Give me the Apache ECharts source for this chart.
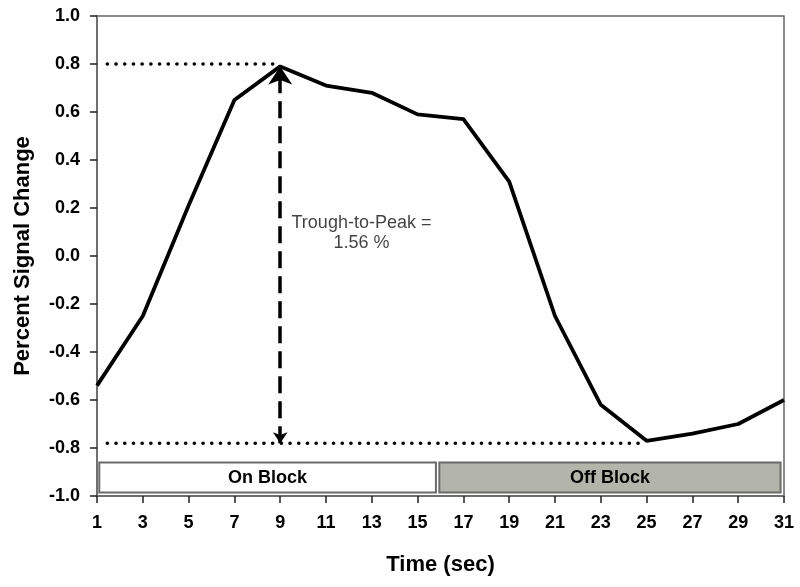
<!DOCTYPE html>
<html><head><meta charset="utf-8">
<script src="https://cdn.jsdelivr.net/npm/echarts@6/dist/echarts.min.js"></script>
<style>html,body{margin:0;padding:0;background:#fff}#c{width:800px;height:587px}</style>
</head><body><div id="c"></div>
<script>
const times = [1,3,5,7,9,11,13,15,17,19,21,23,25,27,29,31];
const signal = [-0.54,-0.25,0.21,0.65,0.79,0.71,0.68,0.59,0.57,0.31,-0.25,-0.62,-0.77,-0.74,-0.70,-0.60];
const peakLine = [[1.45,0.8],[9,0.8]];
const troughLine = [[1.45,-0.78],[25,-0.78]];
const arrowSpan = [[9,-0.78],[9,0.79]];
const annotation = {t: 12.55, v: 0.095, text: 'Trough-to-Peak =\n1.56 %'};
const blockNames = ['On Block','Off Block'];
const blockStart = [1.1, 15.95];
const blockEnd = [15.8, 30.85];
const blockTop = -0.86, blockBottom = -0.985;
const blockFill = ['#ffffff','#b4b5aa'];

const chart = echarts.init(document.getElementById('c'));
const axisCol = '#666';
chart.setOption({
  animation:false,
  grid:{left:97,right:16,top:16,bottom:91,show:true,borderColor:axisCol,borderWidth:1.5,backgroundColor:'transparent'},
  xAxis:{type:'value',min:1,max:31,interval:2,
    name:'Time (sec)',nameLocation:'middle',nameGap:58,
    nameTextStyle:{fontFamily:'Liberation Sans',fontWeight:'bold',fontSize:22,color:'#000'},
    axisLine:{onZero:false,lineStyle:{color:axisCol,width:1.5}},
    axisTick:{show:true,length:7,lineStyle:{color:'#222',width:1.5}},
    splitLine:{show:false},
    axisLabel:{margin:18,fontFamily:'Liberation Sans',fontWeight:'bold',fontSize:18,color:'#000'}},
  yAxis:{type:'value',min:-1,max:1,interval:0.2,
    name:'Percent Signal Change',nameLocation:'middle',nameGap:63,nameRotate:90,
    nameTextStyle:{fontFamily:'Liberation Sans',fontWeight:'bold',fontSize:22,color:'#000'},
    axisLine:{onZero:false,lineStyle:{color:axisCol,width:1.5}},
    axisTick:{show:true,length:7,lineStyle:{color:'#222',width:1.5}},
    splitLine:{show:false},
    axisLabel:{margin:17,fontFamily:'Liberation Sans',fontWeight:'bold',fontSize:18,color:'#000',
      formatter:v=>v.toFixed(1)}},
  series:[
    {type:'custom',z:1,
      data:blockNames.map((n,i)=>[blockStart[i],blockEnd[i],blockTop,blockBottom,i]),
      renderItem:(params,api)=>{
        const p1=api.coord([api.value(0),api.value(2)]);
        const p2=api.coord([api.value(1),api.value(3)]);
        const i=api.value(4);
        return {type:'group',children:[
          {type:'rect',shape:{x:p1[0],y:p1[1],width:p2[0]-p1[0],height:p2[1]-p1[1]},
            style:{fill:blockFill[i],stroke:'#6b6b6b',lineWidth:2}},
          {type:'text',style:{text:blockNames[i],x:(p1[0]+p2[0])/2,y:(p1[1]+p2[1])/2+1,
            align:'center',verticalAlign:'middle',font:'bold 18px "Liberation Sans"',fill:'#000'}}
        ]};
      }},
    {type:'line',data:peakLine,symbol:'none',z:2,lineStyle:{color:'#000',width:3.6,type:[0.1,8.6],cap:'round'}},
    {type:'line',data:troughLine,symbol:'none',z:2,lineStyle:{color:'#000',width:3.6,type:[0.1,8.6],cap:'round'}},
    {type:'lines',coordinateSystem:'cartesian2d',z:3,
      symbol:['arrow','arrow'],symbolSize:[11,18],
      data:[{coords:arrowSpan}],
      lineStyle:{color:'#000',width:3.5,type:[17,8],opacity:1}},
    {type:'line',data:times.map((t,i)=>[t,signal[i]]),symbol:'none',z:4,
      lineStyle:{color:'#000',width:3.8}},
    {type:'scatter',data:[[annotation.t,annotation.v]],symbolSize:0,z:5,
      itemStyle:{color:'#000'},
      label:{show:true,position:'inside',formatter:annotation.text,
        fontFamily:'Liberation Sans',fontSize:18,color:'#111',lineHeight:20,align:'center',
        textBorderWidth:0,textShadowBlur:0}}
  ]
});
</script></body></html>
